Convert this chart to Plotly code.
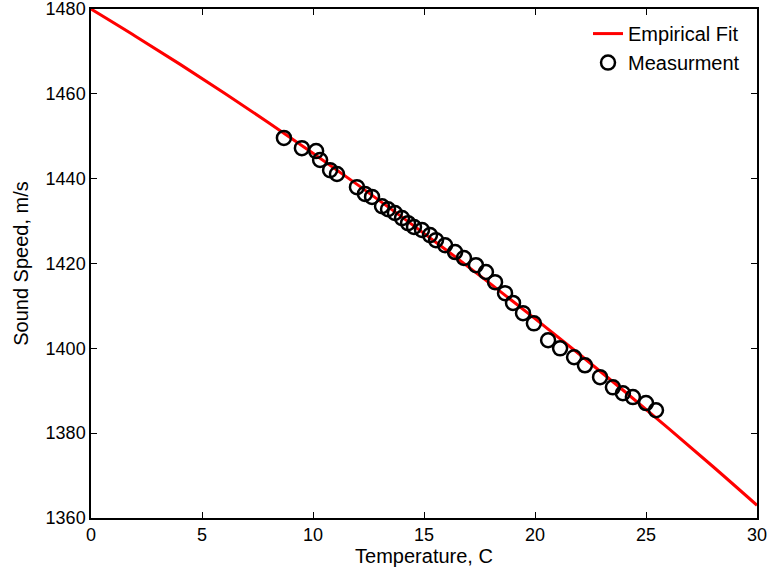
"""
Sound speed vs temperature: empirical fit and measurements
"""
import plotly.graph_objects as go

# empirical fit curve
fit_temp = [0, 2, 4, 6, 8, 10, 12, 14, 16, 18, 20, 22, 24, 26, 28, 30]
fit_speed = [1480.0, 1473.6, 1467.0, 1460.2, 1453.2, 1446.0, 1438.6, 1431.0,
             1423.2, 1415.2, 1407.0, 1398.6, 1390.0, 1381.2, 1372.2, 1363.0]

# measurements
meas_temp = [8.69, 9.50, 10.14, 10.32, 10.77, 11.08, 11.98, 12.34, 12.66, 13.11,
             13.38, 13.69, 14.01, 14.28, 14.55, 14.91, 15.27, 15.54, 15.95, 16.40,
             16.80, 17.34, 17.79, 18.20, 18.65, 19.01, 19.46, 19.95, 20.59, 21.13,
             21.76, 22.25, 22.93, 23.51, 23.96, 24.41, 25.00, 25.45]
meas_speed = [1449.6, 1447.2, 1446.5, 1444.4, 1442.0, 1441.1, 1438.0, 1436.4, 1435.7, 1433.5,
              1432.8, 1431.9, 1430.7, 1429.5, 1428.6, 1427.9, 1426.7, 1425.5, 1424.3, 1422.7,
              1421.3, 1419.6, 1418.0, 1415.6, 1413.0, 1410.7, 1408.3, 1405.9, 1401.9, 1400.0,
              1397.9, 1396.0, 1393.2, 1390.8, 1389.4, 1388.5, 1387.1, 1385.4]

x_ticks = [0, 5, 10, 15, 20, 25, 30]
y_ticks = [1360, 1380, 1400, 1420, 1440, 1460, 1480]

FONT = "Liberation Sans, Arial, sans-serif"

fig = go.Figure()

fig.add_trace(go.Scatter(
    x=fit_temp, y=fit_speed,
    mode="lines", name="Empirical Fit",
    line=dict(color="#ff0000", width=3, shape="spline"),
))

fig.add_trace(go.Scatter(
    x=meas_temp, y=meas_speed,
    mode="markers", name="Measurment",
    marker=dict(symbol="circle-open", size=14, color="black",
                line=dict(color="black", width=2.5)),
))

axis_common = dict(
    showline=True, linecolor="black", linewidth=1.5, mirror="ticks",
    ticks="inside", ticklen=6, tickcolor="black", tickwidth=1,
    showgrid=False, zeroline=False, automargin=False,
    ticklabeloverflow="allow",
    tickfont=dict(family=FONT, size=18, color="black"),
)

fig.update_xaxes(range=[0, 30], tickvals=x_ticks,
                 title=dict(text="Temperature, C", standoff=0,
                            font=dict(family=FONT, size=20, color="black")),
                 **axis_common)
fig.update_yaxes(range=[1360, 1480], tickvals=y_ticks,
                 title=dict(text="Sound Speed, m/s", standoff=12,
                            font=dict(family=FONT, size=20, color="black")),
                 **axis_common)

fig.update_layout(
    width=770, height=571,
    plot_bgcolor="white", paper_bgcolor="white",
    margin=dict(l=91, r=13, t=9, b=53),
    font=dict(family=FONT, size=18, color="black"),
    legend=dict(x=0.982, y=0.99, xanchor="right", yanchor="top",
                bgcolor="rgba(0,0,0,0)", borderwidth=0,
                font=dict(family=FONT, size=20, color="black"),
                tracegroupgap=0),
    showlegend=True,
)

# drop the default page margin so the figure sits at the window corner
fig.write_html("out.html", config={"displayModeBar": False},
               post_script="document.body.style.margin='0';")
